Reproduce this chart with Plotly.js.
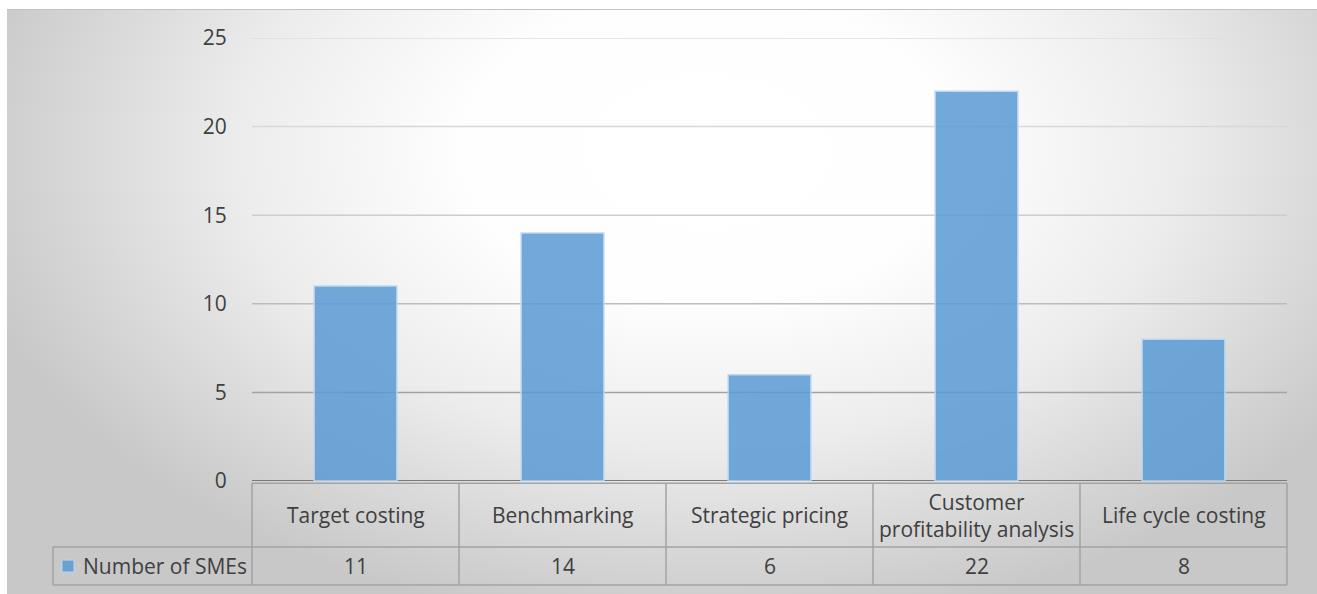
<!DOCTYPE html>
<html>
<head>
<meta charset="utf-8">
<script src="https://cdn.plot.ly/plotly-3.0.1.min.js"></script>
<style>
  html, body { margin: 0; padding: 0; background: #ffffff; overflow: hidden; }
  #frame {
    position: absolute; left: 7px; top: 9px; width: 1310px; height: 600px;
    border-top: 1px solid #c4c4c4;
    background: radial-gradient(ellipse 760px 480px at 700px 140px,
      #ffffff 0%, #fefefe 32%, #ececec 62%, #d6d6d6 85%, #c8c8c8 100%);
  }
  #chart { position: absolute; left: 0; top: 0; width: 1317px; height: 594px; }
</style>
</head>
<body>
<div id="frame"></div>
<div id="chart"></div>
<script>
// Management accounting techniques used by SMEs
const categories = ['Target costing', 'Benchmarking', 'Strategic pricing',
                    'Customer<br>profitability analysis', 'Life cycle costing'];
const smeCounts = [11, 14, 6, 22, 8];
const seriesName = 'Number of SMEs';
const yTicks = [0, 5, 10, 15, 20, 25];

// gridline shades, darker toward the baseline
const gridShades = ['#7a7a7a', '#a2a2a2', '#bcbcbc', '#cdcdcd', '#d8d8d8', '#dedede'];

const barColor = 'rgba(91,155,213,0.86)';
const barEdge = 'rgba(190,216,240,0.95)';
const textFont = { family: 'Open Sans, sans-serif', size: 21, color: '#404040' };
const tableLine = { color: '#a3a3a3', width: 1.5 };

// table geometry (paper units below the plot area)
const rowTop = -0.005, rowMid = -0.149, rowBottom = -0.235;
const legendLeft = -0.1923;
const nCols = categories.length;
const rowValueY = (rowMid + rowBottom) / 2;

const shapes = [];
yTicks.forEach((v, i) => {
  shapes.push({ type: 'line', xref: 'paper', yref: 'y', x0: 0, x1: 1, y0: v, y1: v,
                layer: 'below', line: { color: gridShades[i], width: i === 0 ? 2 : 1.5 } });
});
// header row + value row borders
shapes.push({ type: 'line', xref: 'paper', yref: 'paper', x0: 0, x1: 1, y0: rowTop, y1: rowTop, line: tableLine });
shapes.push({ type: 'line', xref: 'paper', yref: 'paper', x0: legendLeft, x1: 1, y0: rowMid, y1: rowMid, line: tableLine });
shapes.push({ type: 'line', xref: 'paper', yref: 'paper', x0: legendLeft, x1: 1, y0: rowBottom, y1: rowBottom, line: tableLine });
shapes.push({ type: 'line', xref: 'paper', yref: 'paper', x0: legendLeft, x1: legendLeft, y0: rowMid, y1: rowBottom, line: tableLine });
for (let i = 0; i <= nCols; i++) {
  shapes.push({ type: 'line', xref: 'paper', yref: 'paper', x0: i / nCols, x1: i / nCols,
                y0: rowTop, y1: rowBottom, line: tableLine });
}
// series key in the table's legend cell
shapes.push({ type: 'rect', xref: 'paper', yref: 'paper', x0: -0.1836, x1: -0.1720,
              y0: rowValueY - 0.0135, y1: rowValueY + 0.0135,
              fillcolor: barColor, line: { color: barEdge, width: 1 } });

const annotations = [];
categories.forEach((c, i) => {
  annotations.push({ xref: 'x', yref: 'paper', x: i, y: (rowTop + rowMid) / 2, text: c,
                     showarrow: false, font: textFont, xanchor: 'center', yanchor: 'middle' });
  annotations.push({ xref: 'x', yref: 'paper', x: i, y: rowValueY, text: String(smeCounts[i]),
                     showarrow: false, font: textFont, xanchor: 'center', yanchor: 'middle' });
});
annotations.push({ xref: 'paper', yref: 'paper', x: -0.1655, y: rowValueY, text: seriesName,
                   showarrow: false, font: textFont, xanchor: 'left', yanchor: 'middle' });

const trace = {
  type: 'bar',
  x: categories,
  y: smeCounts,
  name: seriesName,
  width: 0.4,
  marker: { color: barColor, line: { color: barEdge, width: 1.5 } },
  hoverinfo: 'x+y'
};

const layout = {
  width: 1317, height: 594,
  margin: { l: 252, r: 30, t: 38, b: 113, pad: 0, autoexpand: false },
  paper_bgcolor: 'rgba(0,0,0,0)',
  plot_bgcolor: 'rgba(0,0,0,0)',
  font: textFont,
  showlegend: false,
  xaxis: { type: 'category', range: [-0.5, 4.5], showticklabels: false, showgrid: false,
           zeroline: false, showline: false, ticks: '', fixedrange: true },
  yaxis: { range: [0, 25], tickvals: yTicks, showgrid: false, zeroline: false, showline: false,
           ticks: 'outside', ticklen: 20, tickcolor: 'rgba(0,0,0,0)',
           tickfont: textFont, fixedrange: true },
  shapes: shapes,
  annotations: annotations
};

Plotly.newPlot('chart', [trace], layout, { displayModeBar: false });
</script>
</body>
</html>
